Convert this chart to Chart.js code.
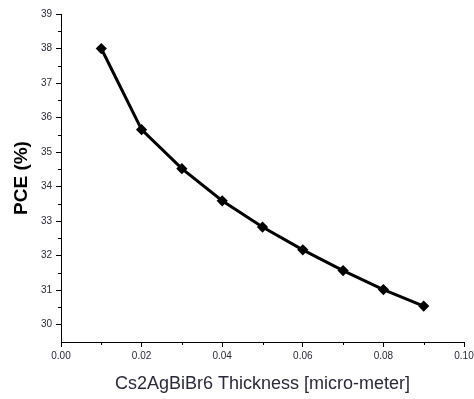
<!DOCTYPE html>
<html>
<head>
<meta charset="utf-8">
<script src="https://cdn.jsdelivr.net/npm/chart.js@4"></script>
<style>
  html, body { margin: 0; padding: 0; background: #fff; }
  #wrap { width: 474px; height: 399px; }
</style>
</head>
<body>
<div id="wrap"><canvas id="grafico" width="474" height="399"></canvas></div>
<script>
// dados
const espessura = [0.01, 0.02, 0.03, 0.04, 0.05, 0.06, 0.07, 0.08, 0.09];
const pce = [38.0, 35.65, 34.52, 33.59, 32.83, 32.17, 31.57, 31.02, 30.54];
const xTicks = [0, 0.02, 0.04, 0.06, 0.08, 0.10];
const yTicks = [30, 31, 32, 33, 34, 35, 36, 37, 38, 39];

const corTexto = '#2a2a3a';

// desenha os ticks menores entre os maiores
const minorTicks = {
  id: 'minorTicks',
  afterDraw(chart) {
    const ctx = chart.ctx;
    const x = chart.scales.x, y = chart.scales.y;
    ctx.save();
    ctx.strokeStyle = '#000';
    ctx.lineWidth = 1;
    ctx.beginPath();
    for (let i = 0; i < xTicks.length - 1; i++) {
      const px = Math.round(x.getPixelForValue((xTicks[i] + xTicks[i + 1]) / 2)) + 0.5;
      ctx.moveTo(px, y.bottom);
      ctx.lineTo(px, y.bottom + 3);
    }
    for (let i = 0; i < yTicks.length - 1; i++) {
      const py = Math.round(y.getPixelForValue((yTicks[i] + yTicks[i + 1]) / 2)) + 0.5;
      ctx.moveTo(x.left, py);
      ctx.lineTo(x.left - 3, py);
    }
    ctx.stroke();
    ctx.restore();
  }
};

new Chart(document.getElementById('grafico').getContext('2d'), {
  type: 'line',
  data: {
    datasets: [{
      data: espessura.map((v, i) => ({ x: v, y: pce[i] })),
      borderColor: '#000',
      backgroundColor: '#000',
      borderWidth: 3,
      pointStyle: 'rectRot',
      pointRadius: 3.5,
      tension: 0
    }]
  },
  options: {
    responsive: false,
    animation: false,
    layout: { padding: { top: 14, right: 10, left: 0, bottom: 0 } },
    plugins: { legend: { display: false }, tooltip: { enabled: false } },
    scales: {
      x: {
        type: 'linear',
        min: 0,
        max: 0.10,
        afterBuildTicks: s => { s.ticks = xTicks.map(v => ({ value: v })); },
        afterFit: s => { s.height = 57; s.paddingRight = 0; s.paddingLeft = 0; },
        grid: { display: true, drawOnChartArea: false, tickLength: 5, color: '#000' },
        border: { display: true, color: '#000', width: 1 },
        ticks: {
          color: corTexto,
          font: { family: 'Liberation Sans', size: 10 },
          padding: 3,
          maxRotation: 0,
          callback: v => v.toFixed(2)
        },
        title: {
          display: true,
          text: 'Cs2AgBiBr6 Thickness [micro-meter]',
          color: corTexto,
          font: { family: 'Liberation Sans', size: 18 },
          padding: { top: 6 }
        }
      },
      y: {
        type: 'linear',
        min: 29.5,
        max: 39,
        afterBuildTicks: s => { s.ticks = yTicks.map(v => ({ value: v })); },
        afterFit: s => { s.width = 61; },
        grid: { display: true, drawOnChartArea: false, tickLength: 5, color: '#000' },
        border: { display: true, color: '#000', width: 1 },
        ticks: {
          color: corTexto,
          font: { family: 'Liberation Sans', size: 10 },
          padding: 4
        },
        title: {
          display: true,
          text: 'PCE (%)',
          color: '#000',
          font: { family: 'Liberation Sans', size: 19, weight: 'bold' },
          padding: { top: 10, bottom: 8 }
        }
      }
    }
  },
  plugins: [minorTicks]
});
</script>
</body>
</html>
